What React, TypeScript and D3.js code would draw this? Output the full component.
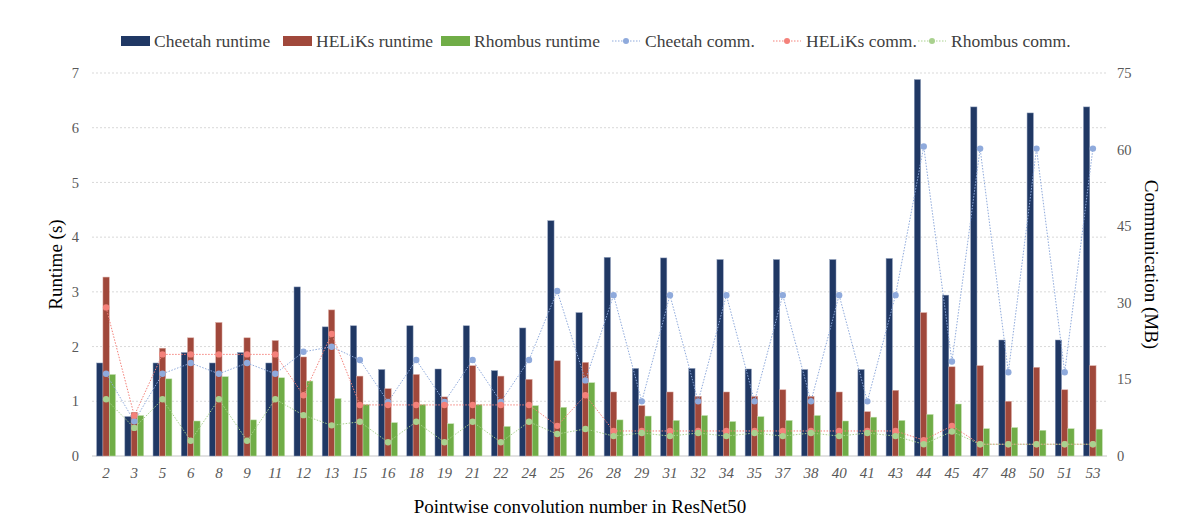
import * as d3 from "d3";

const categories = ["2", "3", "5", "6", "8", "9", "11", "12", "13", "15", "16", "18", "19", "21", "22", "24", "25", "26", "28", "29", "31", "32", "34", "35", "37", "38", "40", "41", "43", "44", "45", "47", "48", "50", "51", "53"];

const cheetahRuntime = [1.7, 0.72, 1.7, 1.89, 1.7, 1.89, 1.7, 3.09, 2.36, 2.38, 1.58, 2.38, 1.59, 2.38, 1.56, 2.34, 4.3, 2.62, 3.63, 1.6, 3.62, 1.6, 3.59, 1.59, 3.59, 1.58, 3.59, 1.58, 3.61, 6.88, 2.94, 6.38, 2.12, 6.27, 2.12, 6.38];
const heliksRuntime = [3.27, 0.8, 1.97, 2.16, 2.44, 2.16, 2.11, 1.81, 2.67, 1.46, 1.23, 1.49, 1.08, 1.65, 1.46, 1.4, 1.74, 1.71, 1.17, 0.92, 1.17, 1.09, 1.17, 1.09, 1.21, 1.09, 1.17, 0.81, 1.2, 2.62, 1.63, 1.65, 1.0, 1.62, 1.21, 1.65];
const rhombusRuntime = [1.49, 0.74, 1.41, 0.64, 1.45, 0.66, 1.43, 1.37, 1.05, 0.94, 0.61, 0.94, 0.59, 0.94, 0.54, 0.92, 0.89, 1.34, 0.66, 0.73, 0.65, 0.74, 0.63, 0.72, 0.65, 0.74, 0.64, 0.71, 0.65, 0.76, 0.95, 0.5, 0.52, 0.47, 0.5, 0.49];

const cheetahComm = [16.1, 6.8, 16.1, 18.2, 16.1, 18.2, 16.1, 20.4, 21.4, 18.8, 10.6, 18.8, 10.6, 18.8, 10.6, 18.8, 32.3, 14.8, 31.5, 10.7, 31.5, 10.7, 31.5, 10.7, 31.5, 10.7, 31.5, 10.7, 31.5, 60.6, 18.5, 60.2, 16.4, 60.2, 16.4, 60.2];
const heliksComm = [29.1, 7.9, 19.9, 19.9, 19.9, 19.9, 19.9, 11.9, 23.9, 10.0, 10.0, 10.0, 10.0, 10.0, 10.0, 10.0, 5.9, 11.9, 4.9, 4.9, 4.9, 4.9, 4.9, 4.9, 4.9, 4.9, 4.9, 4.9, 4.9, 3.1, 5.9, 2.3, 2.3, 2.3, 2.3, 2.3];
const rhombusComm = [11.1, 5.5, 11.1, 3.0, 11.1, 3.0, 11.1, 8.0, 6.0, 6.7, 2.7, 6.7, 2.7, 6.7, 2.7, 6.7, 4.3, 5.3, 3.9, 4.5, 3.9, 4.5, 3.9, 4.5, 3.9, 4.5, 3.9, 4.5, 3.9, 2.3, 4.8, 2.3, 2.3, 2.3, 2.3, 2.3];

const runtimeTicks = [0, 1, 2, 3, 4, 5, 6, 7];
const commTicks = [0, 15, 30, 45, 60, 75];

const WIDTH = 1204;
const HEIGHT = 529;
const PLOT = { left: 92, right: 1107, top: 73, bottom: 456 };
const FONT = "'Liberation Serif', 'DejaVu Serif', serif";

const barSeries = [
  { name: "Cheetah runtime", values: cheetahRuntime, color: "#203864", edge: "#8a9ab8" },
  { name: "HELiKs runtime", values: heliksRuntime, color: "#a0483b", edge: "#d9a79f" },
  { name: "Rhombus runtime", values: rhombusRuntime, color: "#70ad47", edge: "#c5e0b3" },
];

const lineSeries = [
  { name: "Cheetah comm.", values: cheetahComm, color: "#8faadc" },
  { name: "HELiKs comm.", values: heliksComm, color: "#f4817a" },
  { name: "Rhombus comm.", values: rhombusComm, color: "#a9d18e" },
];

// legend item start positions (swatch x)
const legendX = [121, 283, 441, 612, 773, 918];

export default function App() {
  const x = d3
    .scaleBand<string>()
    .domain(categories)
    .range([PLOT.left, PLOT.right])
    .paddingInner(0.33)
    .paddingOuter(0.165);

  const sub = d3
    .scaleBand<number>()
    .domain([0, 1, 2])
    .range([0, x.bandwidth()]);

  const y = d3.scaleLinear().domain([0, 7]).range([PLOT.bottom, PLOT.top]);
  const y2 = d3.scaleLinear().domain([0, 75]).range([PLOT.bottom, PLOT.top]);

  const cx = (i: number) => (x(categories[i]) ?? 0) + x.bandwidth() / 2;

  const line = d3
    .line<number>()
    .x((_, i) => cx(i))
    .y((d) => y2(d));

  return (
    <svg
      width={WIDTH}
      height={HEIGHT}
      style={{ position: "absolute", left: 0, top: 0, background: "#fff" }}
      fontFamily={FONT}
    >
      {/* gridlines */}
      {runtimeTicks.map((t) => (
        <line
          key={`g${t}`}
          x1={PLOT.left}
          x2={PLOT.right}
          y1={y(t)}
          y2={y(t)}
          stroke="#d9d9d9"
          strokeWidth={t === 0 ? 1.5 : 1}
          strokeDasharray={t === 0 ? undefined : "2,2"}
        />
      ))}

      {/* left axis labels */}
      {runtimeTicks.map((t) => (
        <text key={`l${t}`} x={79} y={y(t)} dy="0.35em" textAnchor="end" fontSize={14.5} fill="#595959">
          {t}
        </text>
      ))}

      {/* right axis labels */}
      {commTicks.map((t) => (
        <text key={`r${t}`} x={1117} y={y2(t)} dy="0.35em" textAnchor="start" fontSize={14.5} fill="#595959">
          {t}
        </text>
      ))}

      {/* bars */}
      {barSeries.map((s, si) =>
        s.values.map((v, i) => (
          <rect
            key={`b${si}-${i}`}
            x={(x(categories[i]) ?? 0) + (sub(si) ?? 0)}
            y={y(v)}
            width={sub.bandwidth()}
            height={PLOT.bottom - y(v)}
            fill={s.color}
            stroke={s.edge}
            strokeWidth={0.5}
          />
        ))
      )}

      {/* communication lines */}
      {lineSeries.map((s, si) => (
        <g key={`ln${si}`}>
          <path d={line(s.values) ?? ""} fill="none" stroke={s.color} strokeWidth={1} strokeDasharray="1.5,1.5" />
          {s.values.map((v, i) => (
            <circle key={i} cx={cx(i)} cy={y2(v)} r={3.2} fill={s.color} />
          ))}
        </g>
      ))}

      {/* x tick labels */}
      {categories.map((c, i) => (
        <text
          key={`x${c}`}
          x={cx(i)}
          y={473}
          dy="0.35em"
          textAnchor="middle"
          fontSize={15}
          fontStyle="italic"
          fill="#595959"
        >
          {c}
        </text>
      ))}

      {/* axis titles */}
      <text x={580} y={506} dy="0.35em" textAnchor="middle" fontSize={19} fill="#000">
        Pointwise convolution number in ResNet50
      </text>
      <text
        transform={`translate(55,${(PLOT.top + PLOT.bottom) / 2}) rotate(-90)`}
        dy="0.35em"
        textAnchor="middle"
        fontSize={19}
        fill="#000"
      >
        Runtime (s)
      </text>
      <text
        transform={`translate(1152,${(PLOT.top + PLOT.bottom) / 2}) rotate(90)`}
        dy="0.35em"
        textAnchor="middle"
        fontSize={19}
        fill="#000"
      >
        Communication (MB)
      </text>

      {/* legend */}
      {barSeries.map((s, i) => (
        <g key={`lg${i}`} transform={`translate(${legendX[i]},41)`}>
          <rect x={0} y={-5} width={29} height={10} fill={s.color} />
          <text x={33} y={0} dy="0.35em" fontSize={17.5} fill="#404040">
            {s.name}
          </text>
        </g>
      ))}
      {lineSeries.map((s, i) => (
        <g key={`ll${i}`} transform={`translate(${legendX[i + 3]},41)`}>
          <line x1={0} x2={28} y1={0} y2={0} stroke={s.color} strokeWidth={1} strokeDasharray="1.5,1.5" />
          <circle cx={14} cy={0} r={3} fill={s.color} />
          <text x={33} y={0} dy="0.35em" fontSize={17.5} fill="#404040">
            {s.name}
          </text>
        </g>
      ))}
    </svg>
  );
}
